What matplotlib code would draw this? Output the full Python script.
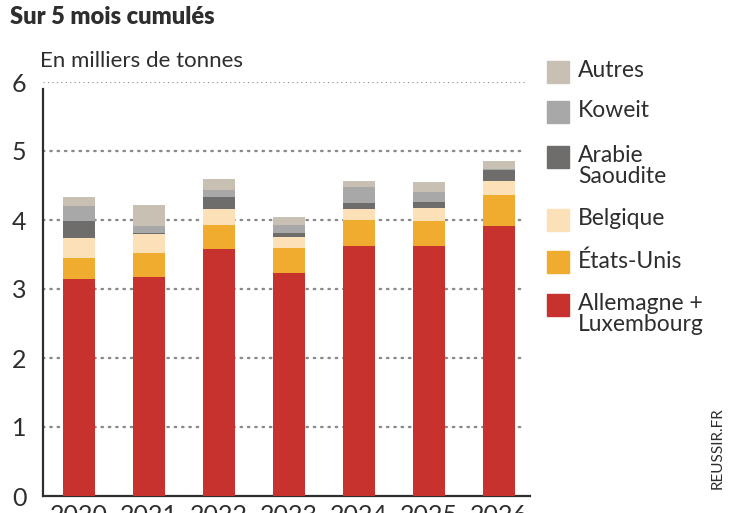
import matplotlib
matplotlib.use("Agg")
import matplotlib.pyplot as plt
import numpy as np
from matplotlib.patches import Rectangle

plt.rcParams['font.family'] = ['Lato', 'DejaVu Sans']

years = ["2020", "2021", "2022", "2023", "2024", "2025", "2026"]
series = ["Allemagne +\nLuxembourg", "États-Unis", "Belgique", "Arabie\nSaoudite", "Koweit", "Autres"]
colors = ["#c8322e", "#f0ac2f", "#fce0b8", "#6e6d6b", "#a9a8a8", "#c9c0b4"]

allemagne = [3.14, 3.18, 3.58, 3.23, 3.63, 3.63, 3.91]
etats_unis = [0.31, 0.34, 0.35, 0.37, 0.37, 0.36, 0.45]
belgique = [0.29, 0.27, 0.23, 0.15, 0.16, 0.18, 0.20]
arabie = [0.24, 0.02, 0.18, 0.06, 0.08, 0.09, 0.16]
koweit = [0.22, 0.10, 0.09, 0.12, 0.24, 0.15, 0.02]
autres = [0.13, 0.31, 0.16, 0.11, 0.09, 0.14, 0.12]
values = [allemagne, etats_unis, belgique, arabie, koweit, autres]

txt = "#2e2e2e"

fig = plt.figure(figsize=(7.47, 5.13), dpi=100)
ax = fig.add_axes([43 / 747, 1 - 496 / 513, (530 - 43) / 747, (496 - 82) / 513])

x = np.arange(len(years))
bottom = np.zeros(len(years))
for vals, col in zip(values, colors):
    ax.bar(x, vals, width=0.457, bottom=bottom, color=col, zorder=3)
    bottom += np.array(vals)

ax.set_xlim(-0.514, 6.44)
ax.set_ylim(0, 6)

for y in range(1, 6):
    ax.axhline(y, xmax=0.99, color="#8a8a8a", lw=1.7, linestyle=(0, (0.6, 2.5)),
               dash_capstyle="round", zorder=1)
ax.axhline(6, xmax=0.99, color="#8a8a8a", lw=0.8, linestyle=(0, (1, 3)), zorder=1)

for s in ["top", "right"]:
    ax.spines[s].set_visible(False)
ax.spines["left"].set_bounds(0, 5.9)
ax.spines["left"].set_linewidth(1.6)
ax.spines["bottom"].set_linewidth(1.6)
ax.spines["left"].set_color(txt)
ax.spines["bottom"].set_color(txt)

ax.set_yticks(range(0, 7))
ax.set_yticklabels([str(i) for i in range(0, 7)], fontsize=18, color=txt)
ax.set_xticks(x)
ax.set_xticklabels(years, fontsize=18, color=txt)
ax.tick_params(axis="both", length=0)
ax.tick_params(axis="y", pad=12)
ax.tick_params(axis="x", pad=6)

fig.text(10 / 747, 1 - 17 / 513, "Sur 5 mois cumulés", fontsize=17, fontweight="heavy",
         color=txt, va="center", ha="left")
fig.text(40 / 747, 1 - 61 / 513, "En milliers de tonnes", fontsize=16,
         color=txt, va="center", ha="left")

# legend, drawn top to bottom
leg_y = [305, 262, 220, 157, 112, 72]
for lab, col, ly in zip(series, colors, leg_y):
    fig.patches.append(Rectangle((547 / 747, 1 - (ly + 11) / 513), 22 / 747, 22 / 513,
                                 transform=fig.transFigure, color=col))
    fig.text(578 / 747, 1 - (ly - 12) / 513, lab, fontsize=16.5, color=txt,
             va="top", ha="left", linespacing=1.0)

fig.text(718 / 747, 1 - 448 / 513, "REUSSIR.FR", fontsize=11, color=txt,
         rotation=90, va="center", ha="center")

fig.savefig("out.png", dpi=100)
